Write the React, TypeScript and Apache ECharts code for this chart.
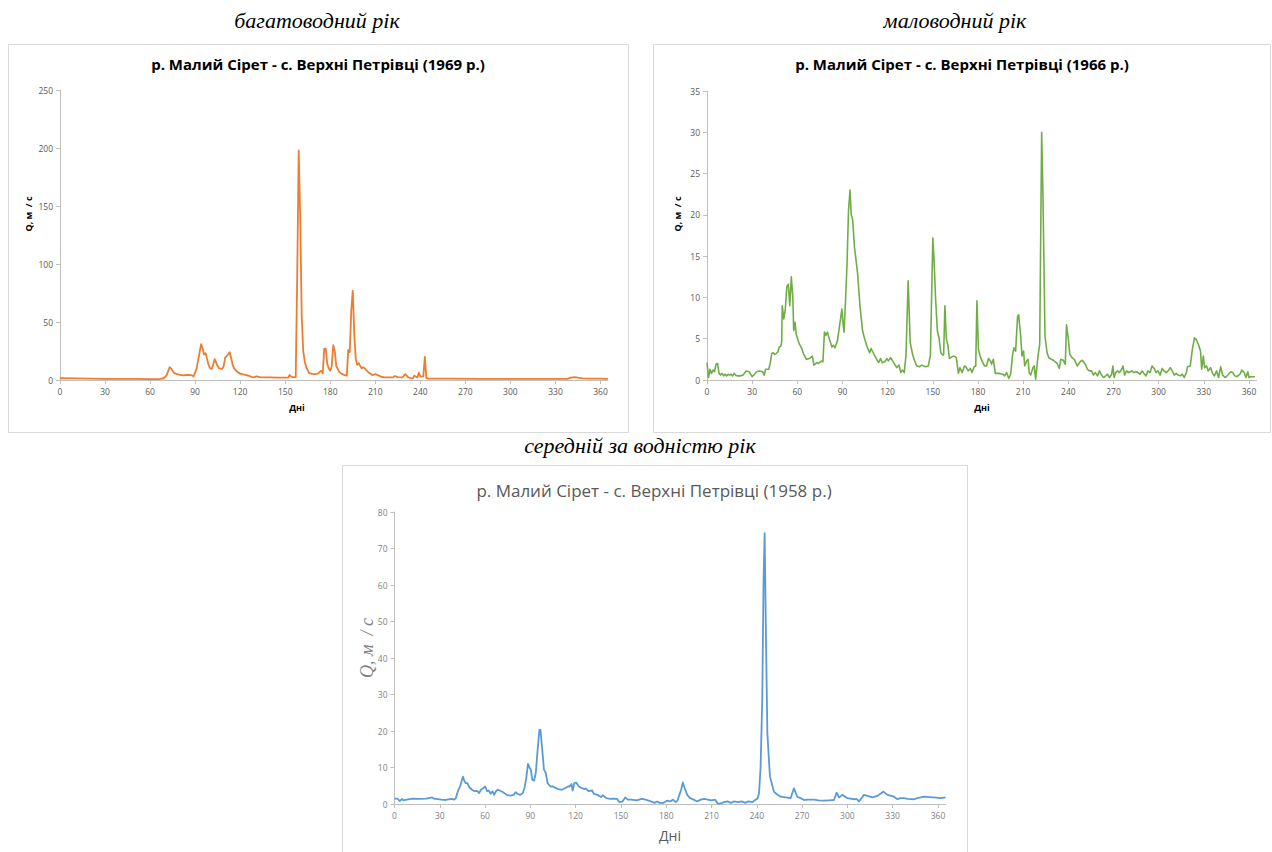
import React, { useEffect, useRef } from "react";
import * as echarts from "echarts";

// ---- data (day of year, discharge m3/s) ----
const xTickDays = [0, 30, 60, 90, 120, 150, 180, 210, 240, 270, 300, 330, 360];
const yTicks1969 = [0, 50, 100, 150, 200, 250];
const yTicks1966 = [0, 5, 10, 15, 20, 25, 30, 35];
const yTicks1958 = [0, 10, 20, 30, 40, 50, 60, 70, 80];

const headingWet = "багатоводний рік";
const headingDry = "маловодний рік";
const headingMid = "середній за водністю рік";
const title1969 = "р. Малий Сірет - с. Верхні Петрівці (1969 р.)";
const title1966 = "р. Малий Сірет - с. Верхні Петрівці (1966 р.)";
const title1958 = "р. Малий Сірет - с. Верхні Петрівці (1958 р.)";
const xName = "Дні";
const yName = "Q, м  / с";

const flow1969: [number, number][] = [
  [0, 1.5], [10, 1.4], [20, 1.2], [30, 1.0], [40, 1.0], [50, 0.9], [60, 0.8], [66, 0.8], [69, 1.5], [71, 4],
  [73, 11], [74, 10], [76, 6], [78, 5], [80, 4.5], [82, 4], [84, 4.3], [86, 4.5], [88, 4], [89, 3],
  [91, 10], [93, 24], [94, 31], [95, 27], [96, 22], [97, 23], [98, 18], [99, 13], [100, 10], [101, 9.5],
  [102, 13], [103, 18], [104, 15], [105, 12], [106, 10], [108, 9.5], [109, 12], [110, 19], [112, 22], [113, 24],
  [114, 19], [115, 13], [116, 10], [118, 7], [120, 5.5], [122, 4.8], [124, 4.2], [126, 3.5], [128, 2.4], [129, 2.3],
  [131, 3.2], [133, 2.4], [136, 2.3], [140, 2.2], [145, 2.1], [150, 2], [152, 2], [153, 4.3], [154, 3], [155, 2.3],
  [157, 2.6], [158, 90], [159, 198], [160, 140], [161, 55], [162, 25], [163, 16], [164, 11], [166, 6], [168, 5.2],
  [170, 5], [172, 5.7], [173, 7], [174, 8], [175, 5.7], [176, 27], [177, 27], [178, 14], [179, 10], [180, 8],
  [181, 12], [182, 30], [183, 25], [184, 12], [186, 7], [188, 5], [190, 4], [191, 3.7], [192, 26], [193, 24],
  [194, 60], [195, 77], [196, 40], [197, 18], [198, 13], [199, 14.5], [200, 12], [201, 10], [202, 11], [203, 10],
  [204, 8.6], [206, 6], [208, 4.3], [210, 5], [212, 4], [214, 2.8], [216, 2.3], [220, 2.2], [222, 2.3], [223, 3.4],
  [225, 2.5], [228, 2.3], [230, 5], [232, 2.3], [234, 1.6], [235, 1.4], [236, 3.7], [237, 3], [238, 2.2], [239, 6.3],
  [240, 3], [241, 2.9], [242, 3.4], [243, 20], [244, 1.6], [245, 1.3], [250, 1.2], [260, 1.1], [280, 1.0], [300, 1.0],
  [320, 0.9], [338, 1.0], [340, 2.0], [343, 2.5], [345, 2], [348, 1.4], [352, 1.2], [358, 1.1], [365, 0.9],
];

const flow1966: [number, number][] = [
  [0, 2.1], [1, 0.3], [2, 1.3], [3, 0.8], [4, 1.2], [5, 1.0], [6, 1.9], [7, 2.0], [8, 0.8], [9, 0.6],
  [10, 0.8], [11, 0.5], [12, 0.7], [13, 0.5], [14, 0.7], [15, 0.6], [16, 0.7], [17, 0.5], [18, 0.8], [19, 0.6],
  [20, 0.5], [22, 0.5], [24, 0.6], [26, 1.1], [28, 1.0], [29, 0.7], [30, 0.4], [31, 0.6], [33, 1.0], [35, 1.1],
  [37, 1.0], [38, 0.6], [39, 1.3], [41, 1.3], [42, 2.0], [43, 3.2], [44, 3.3], [45, 3.1], [46, 3.2], [47, 3.4],
  [48, 4.0], [49, 4.1], [49.6, 4.6], [50, 9.0], [51, 7.4], [52, 8.5], [53, 11.3], [54, 11.6], [55, 9.0], [56, 12.5],
  [57, 10], [57.6, 6], [58.4, 7], [59.3, 5.5], [61, 4.5], [63, 3.8], [64, 3.2], [66, 2.5], [68, 2.6], [70, 2.9],
  [71, 1.8], [73, 2.1], [74, 2.0], [76, 2.3], [77, 2.2], [78, 5.8], [79, 5.4], [80, 5.8], [81.5, 4.8], [83, 4.0],
  [84, 4.2], [85, 3.9], [86.7, 4.8], [88, 6.5], [89.6, 8.6], [90.3, 7], [91, 5.8], [92, 9.5], [93, 14], [94, 20.5],
  [95, 23], [95.8, 20], [96.7, 19.5], [98, 16], [100, 13], [101.6, 9], [103.3, 6], [104.7, 5], [106.4, 4], [108, 3.3],
  [109, 3.8], [110.4, 3.3], [112.7, 2.5], [114, 2.1], [115.3, 2.6], [116.4, 2.1], [118, 2.2], [119.6, 2.6], [120.4, 2.3], [122, 2.7],
  [124, 2.1], [126, 1.5], [127.6, 1.8], [128.7, 0.9], [129.8, 1.2], [131, 0.9], [132.2, 3.0], [133.6, 12], [135, 4.5], [136.7, 3.0],
  [138, 2.3], [139.3, 1.7], [141, 1.6], [142.7, 1.8], [145, 1.6], [147, 1.7], [148.4, 3], [150, 17.2], [150.7, 15], [151.8, 10],
  [153, 6], [154.2, 5], [155.3, 3.3], [156.7, 3], [157.2, 3.1], [158, 9], [159, 5], [160, 4.2], [161, 2.6], [162.7, 2.8],
  [164, 2.9], [165.6, 2.7], [167, 0.8], [168, 1.5], [169.5, 0.9], [171, 1.7], [172, 1.6], [173.5, 1.1], [175, 1.4], [176, 0.9],
  [177.5, 1.6], [178.5, 1.7], [179.3, 9.6], [180.3, 3.7], [181.6, 2.8], [183, 2.2], [184.3, 1.7], [185.6, 1.7], [187, 2.6], [188.3, 2.3],
  [189, 1.9], [190.2, 2.5], [191.5, 0.8], [193.7, 0.8], [196.4, 0.7], [197.7, 0.5], [199, 0.9], [200.4, 0.2], [201.7, 0.7], [203, 3.1],
  [203.9, 3.9], [205, 3.5], [206.3, 7.7], [207, 7.9], [208.4, 5.3], [209.2, 2.9], [210.3, 3.5], [211, 1.7], [212.4, 2.3], [213.3, 2.5],
  [214, 0.9], [215, 0.6], [216.5, 1.5], [217.3, 1.7], [218.3, 0.1], [220, 3.1], [221, 4.3], [222.3, 30], [223.2, 22], [224.5, 5.3],
  [225.9, 3.3], [227, 2.7], [229.9, 2.4], [232.6, 2.0], [234, 1.4], [235, 2.5], [236.6, 2.4], [238, 1.9], [238.8, 6.7], [239.8, 5.3],
  [241, 3.1], [242.5, 2.7], [244, 2.5], [246, 1.7], [247.8, 2.2], [249.2, 2.4], [251.3, 1.9], [252.7, 1.3], [254, 1.1], [255.4, 1.1],
  [256.7, 0.6], [258, 0.9], [259.4, 0.5], [260.7, 1.1], [262, 0.6], [263.4, 0.3], [264.8, 0.5], [266, 0.7], [267.4, 0.3], [268.8, 0.7],
  [269.6, 1.7], [270.4, 0.3], [271.5, 0.9], [272.8, 1.1], [274, 0.9], [275.5, 1.3], [276.3, 1.7], [277.4, 0.6], [278.7, 1.1], [280, 0.9],
  [282.2, 1.1], [283.5, 0.9], [285.4, 1.0], [287.6, 0.7], [289, 1.1], [290.2, 0.8], [291.6, 0.5], [292.9, 1.1], [294.3, 0.9], [295.6, 1.7],
  [297, 1.4], [298.3, 0.9], [299.6, 1.1], [301, 0.6], [302.3, 1.4], [303.6, 1.1], [305, 0.9], [306.3, 1.1], [307.7, 1.5], [309, 1.1],
  [310.4, 0.6], [311.7, 0.8], [313, 0.6], [314.4, 0.5], [315.7, 0.7], [317, 0.3], [318.4, 0.9], [319.2, 1.6], [321, 1.7], [322.4, 3.7],
  [323.8, 5.1], [325, 4.9], [326.4, 4.3], [327.8, 3.5], [328.6, 1.3], [329.7, 2.9], [330.5, 1.5], [331.8, 1.7], [333, 1.1], [334.5, 1.5],
  [335.8, 0.8], [337, 0.5], [338.5, 1.1], [339.8, 0.3], [341.2, 1.6], [342.5, 0.6], [344.4, 0.3], [346, 0.6], [347.9, 1.0], [349.2, 0.9],
  [350.6, 0.5], [352, 0.4], [354, 0.7], [355.2, 1.2], [356.8, 0.9], [358, 0.3], [359.2, 1.0], [360, 0.3], [361.3, 0.4], [364, 0.4],
];

const flow1958: [number, number][] = [
  [0, 1.45], [2, 1.45], [3.5, 0.8], [5, 1.4], [6, 1.0], [8, 1.2], [12, 1.45], [16, 1.4], [21, 1.45], [23.5, 1.7],
  [25, 1.8], [26, 1.45], [31, 1.2], [34, 1.1], [37.7, 1.4], [39.6, 1.2], [40.6, 1.6], [42, 3.5], [43.6, 5], [45.3, 7.5],
  [46.2, 6.4], [47.2, 5.7], [48.3, 5.7], [49.5, 4.6], [51.4, 3.9], [53, 3.5], [54.7, 3.6], [56.1, 3.0], [57.3, 3.9], [59, 4.4],
  [60.1, 4.8], [61.3, 3.5], [62.5, 3.7], [63.7, 2.8], [64.9, 3.5], [66, 2.5], [67.2, 3.5], [68.4, 3.9], [69.6, 3.7], [72, 3.2],
  [74.3, 2.5], [76.7, 2.3], [79, 2.5], [80.2, 3.2], [81.4, 2.8], [83.3, 2.5], [85, 3.0], [86.1, 4.4], [87.3, 7.1], [88.4, 11],
  [89.2, 10.3], [89.6, 9.8], [90.3, 9.5], [91.3, 6.6], [92.5, 6.4], [93.6, 8.5], [94.8, 14.8], [96, 20.3], [96.7, 20.3], [97.9, 14.8],
  [99, 9.4], [100.2, 8.5], [101.4, 5.7], [103.3, 4.8], [105, 4.8], [106.6, 4.4], [108.5, 4.1], [110.8, 3.9], [113.2, 4.4], [114.9, 4.8],
  [116, 4.8], [117.2, 5.5], [118, 3.7], [119.1, 5.7], [120.3, 5.9], [122.2, 4.8], [123.8, 4.4], [125.5, 4.1], [126.9, 4.2], [128.5, 3.5],
  [130.9, 3.7], [132, 2.8], [134.4, 2.5], [136.8, 1.9], [138, 2.4], [140.3, 1.6], [142.7, 1.4], [145, 1.45], [147.4, 1.4], [149, 0.5],
  [151, 0.7], [152.8, 1.8], [154.5, 1.2], [156.8, 1.2], [160.4, 1.0], [163.9, 1.4], [166.3, 1.2], [169.8, 0.7], [172.2, 0.3], [174, 0.7],
  [175.7, 0.3], [178, 0.3], [180.4, 0.9], [182.8, 0.7], [184.4, 1.2], [186.3, 0.5], [187.5, 1.0], [188.7, 2.5], [189.9, 3.9], [191, 5.9],
  [192.2, 4.4], [193.9, 2.5], [195.8, 1.6], [198.1, 1.2], [200.5, 0.7], [202.8, 1.2], [205.2, 1.4], [207.5, 1.2], [209.9, 1.0], [212.3, 1.2],
  [214.2, 0.1], [215.8, 0.1], [218.2, 0.5], [220.5, 0.7], [222.9, 0.3], [224.8, 0.7], [227.6, 0.5], [230, 0.7], [232.3, 0.3], [234.7, 0.7],
  [237, 0.5], [238.7, 1.0], [240.5, 1.5], [241.5, 3], [242.5, 10], [243.6, 28.5], [244.5, 62], [245.2, 74.2], [246, 48], [247, 19.4],
  [248.7, 7.5], [251.3, 3.4], [253.5, 2.6], [255.8, 2.0], [259, 1.8], [262.4, 1.6], [264.6, 4.3], [266.8, 2.0], [269, 1.6], [271.2, 1.1],
  [274, 1.2], [277.9, 1.2], [281, 1.0], [284.5, 0.9], [288, 1.0], [291.1, 1.1], [292.9, 3.1], [294.4, 1.8], [296.7, 2.5], [300, 1.6],
  [302, 1.5], [304.4, 1.3], [306, 1.4], [307.7, 0.7], [311, 2.5], [313.3, 2.2], [316.6, 1.8], [319.9, 2.2], [323.9, 3.4], [326.5, 2.5],
  [330.9, 2.0], [333.2, 1.3], [335, 1.6], [337.5, 1.6], [340, 1.4], [344.2, 1.3], [346.4, 1.6], [350.8, 2.0], [354, 1.9], [357.4, 1.8],
  [361.9, 1.6], [365, 1.8],
];

const SANS = "'Open Sans', 'Liberation Sans', sans-serif";
const SERIF = "'Liberation Serif', 'DejaVu Serif', serif";

function makeXAxis(gridIndex: number, color: string) {
  return {
    type: "value",
    gridIndex,
    min: 0,
    max: 365,
    interval: 30,
    axisLine: { show: true, onZero: false, lineStyle: { color: "#bfbfbf", width: 1 } },
    axisTick: { show: true, length: 4, customValues: xTickDays, lineStyle: { color: "#bfbfbf" } },
    axisLabel: { customValues: xTickDays, margin: 7, color, fontSize: 8.5, fontFamily: SANS },
    splitLine: { show: false },
  };
}

function makeYAxis(gridIndex: number, ticks: number[], color: string) {
  const max = ticks[ticks.length - 1];
  const interval = ticks[1] - ticks[0];
  return {
    type: "value",
    gridIndex,
    min: 0,
    max,
    interval,
    axisLine: { show: true, lineStyle: { color: "#bfbfbf", width: 1 } },
    axisTick: { show: true, length: 4, lineStyle: { color: "#bfbfbf" } },
    axisLabel: { margin: 7, color, fontSize: 8.5, fontFamily: SANS },
    splitLine: { show: false },
  };
}

function txt(text: string, x: number, y: number, extra: any, rotation = 0) {
  return {
    type: "text",
    x,
    y,
    rotation,
    silent: true,
    style: { text, textAlign: "center", textVerticalAlign: "middle", ...extra },
  };
}

function border(x: number, y: number, w: number, h: number) {
  return {
    type: "rect",
    silent: true,
    shape: { x, y, width: w, height: h },
    style: { fill: "none", stroke: "#d9d9d9", lineWidth: 1 },
  };
}

export default function App() {
  const ref = useRef<HTMLDivElement>(null);

  useEffect(() => {
    if (!ref.current) return;
    const chart = echarts.init(ref.current, undefined, { renderer: "svg" });
    const option: any = {
      animation: false,
      backgroundColor: "#ffffff",
      grid: [
        { left: 60, top: 90, width: 548, height: 290 },
        { left: 707, top: 91, width: 549.5, height: 289 },
        { left: 394.5, top: 512, width: 551, height: 292 },
      ],
      xAxis: [makeXAxis(0, "#595959"), makeXAxis(1, "#595959"), makeXAxis(2, "#7f7f7f")],
      yAxis: [
        makeYAxis(0, yTicks1969, "#595959"),
        makeYAxis(1, yTicks1966, "#595959"),
        makeYAxis(2, yTicks1958, "#7f7f7f"),
      ],
      series: [
        {
          type: "line", xAxisIndex: 0, yAxisIndex: 0, data: flow1969, symbol: "none", silent: true,
          lineStyle: { color: "#ED7D31", width: 1.8, join: "round" }, itemStyle: { color: "#ED7D31" },
        },
        {
          type: "line", xAxisIndex: 1, yAxisIndex: 1, data: flow1966, symbol: "none", silent: true,
          lineStyle: { color: "#70AD47", width: 1.6, join: "round" }, itemStyle: { color: "#70AD47" },
        },
        {
          type: "line", xAxisIndex: 2, yAxisIndex: 2, data: flow1958, symbol: "none", silent: true,
          lineStyle: { color: "#5B9BD5", width: 1.8, join: "round" }, itemStyle: { color: "#5B9BD5" },
        },
      ],
      graphic: [
        border(8.5, 44.5, 620, 388),
        border(653.5, 44.5, 617, 388),
        border(342.5, 465.5, 625, 392),
        txt(headingWet, 317, 20, { fontFamily: SERIF, fontStyle: "italic", fontSize: 22, fill: "#000" }),
        txt(headingDry, 955, 20, { fontFamily: SERIF, fontStyle: "italic", fontSize: 22, fill: "#000" }),
        txt(headingMid, 640, 445, { fontFamily: SERIF, fontStyle: "italic", fontSize: 22, fill: "#000" }),
        txt(title1969, 318, 64, { fontFamily: SANS, fontWeight: "bold", fontSize: 15, fill: "#000" }),
        txt(title1966, 962, 64, { fontFamily: SANS, fontWeight: "bold", fontSize: 15, fill: "#000" }),
        txt(title1958, 654, 490, { fontFamily: SANS, fontSize: 17, fill: "#595959" }),
        txt(xName, 297, 407, { fontFamily: SANS, fontWeight: "bold", fontSize: 9, fill: "#000" }),
        txt(xName, 982, 407, { fontFamily: SANS, fontWeight: "bold", fontSize: 9, fill: "#000" }),
        txt(xName, 670, 835, { fontFamily: SANS, fontSize: 14, fill: "#595959" }),
        txt(yName, 28, 214, { fontFamily: SANS, fontWeight: "bold", fontSize: 9, fill: "#000" }, Math.PI / 2),
        txt(yName, 677, 214, { fontFamily: SANS, fontWeight: "bold", fontSize: 9, fill: "#000" }, Math.PI / 2),
        txt(yName, 367, 648, { fontFamily: SERIF, fontStyle: "italic", fontSize: 18, fill: "#7f7f7f" }, Math.PI / 2),
      ],
    };
    chart.setOption(option);
    return () => chart.dispose();
  }, []);

  return (
    <div
      ref={ref}
      style={{ position: "absolute", left: 0, top: 0, width: 1272, height: 852, background: "#fff" }}
    />
  );
}
